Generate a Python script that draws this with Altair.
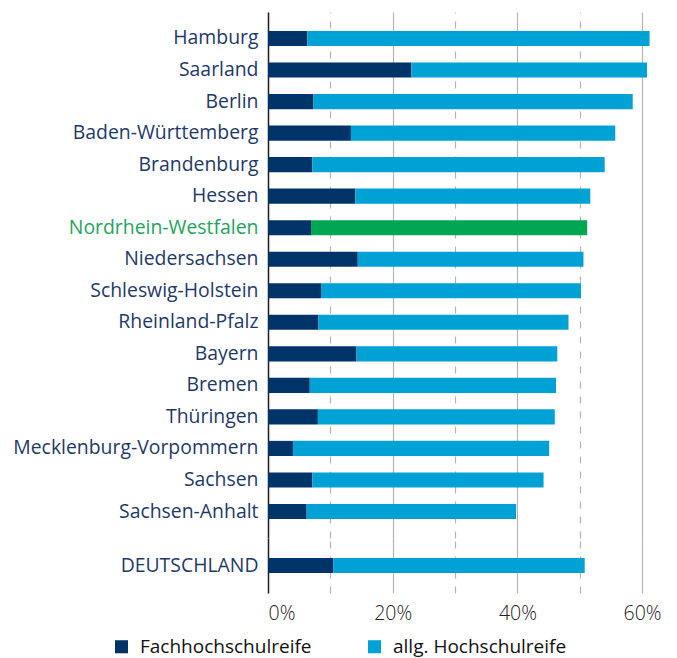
import altair as alt
import pandas as pd

# ---- data (percent of school leavers) ----
states = ["Hamburg", "Saarland", "Berlin", "Baden-Württemberg", "Brandenburg", "Hessen",
          "Nordrhein-Westfalen", "Niedersachsen", "Schleswig-Holstein", "Rheinland-Pfalz",
          "Bayern", "Bremen", "Thüringen", "Mecklenburg-Vorpommern", "Sachsen", "Sachsen-Anhalt"]
fach = [6.3, 23.0, 7.3, 13.3, 7.1, 14.0, 6.9, 14.4, 8.5, 8.1, 14.2, 6.7, 8.0, 4.0, 7.1, 6.2]
allg = [54.9, 37.8, 51.2, 42.4, 46.9, 37.7, 44.3, 36.2, 41.7, 40.1, 32.2, 39.5, 38.0, 41.1, 37.1, 33.6]
total_label = "DEUTSCHLAND"
total_fach = 10.5
total_allg = 40.3

cat_fach = "Fachhochschulreife"
cat_allg = "allg. Hochschulreife"
cat_nrw = "NRW"
highlight = "Nordrhein-Westfalen"

FONT = "Open Sans"
NAVY = "#003468"
BLUE = "#00a1d4"
GREEN = "#00a652"
LABEL_NAVY = "#1f3a68"
LABEL_GREEN = "#1fa55c"


def rows(names, f_vals, a_vals):
    out = []
    for n, f, a in zip(names, f_vals, a_vals):
        out.append({"Land": n, "Art": cat_fach, "Wert": f, "o": 0})
        out.append({"Land": n, "Art": cat_nrw if n == highlight else cat_allg, "Wert": a, "o": 1})
    return pd.DataFrame(out)


df_top = rows(states, fach, allg)
df_bot = rows([total_label], [total_fach], [total_allg])

color = alt.Color(
    "Art:N",
    scale=alt.Scale(domain=[cat_fach, cat_allg, cat_nrw], range=[NAVY, BLUE, GREEN]),
    legend=alt.Legend(
        values=[cat_fach, cat_allg], title=None, orient="none", direction="horizontal",
        legendX=-156, legendY=625, symbolType="square", symbolSize=170, symbolStrokeWidth=0,
        labelFont=FONT, labelFontSize=19, labelColor="#111111", labelLimit=400,
        columnPadding=53, labelOffset=9,
    ),
)

grid_dash = {"condition": {"test": "datum.value % 20 !== 0", "value": [7, 8]}, "value": []}

x_scale = alt.Scale(domain=[0, 64], nice=False)


def y_axis():
    return alt.Axis(
        title=None, ticks=False, labelPadding=10, labelFont=FONT, labelFontSize=19.4,
        labelLimit=400,
        labelColor={"condition": {"test": f"datum.value === '{highlight}'", "value": LABEL_GREEN},
                    "value": LABEL_NAVY},
        domainColor="#222222", domainWidth=1.5, minExtent=260, maxExtent=260,
    )


top = alt.Chart(df_top).mark_bar().encode(
    y=alt.Y("Land:N", sort=states, scale=alt.Scale(paddingInner=0.52, paddingOuter=0.6), axis=y_axis()),
    x=alt.X("Wert:Q", stack="zero", scale=x_scale,
            axis=alt.Axis(title=None, labels=False, ticks=False, domain=False, values=[0, 10, 20, 30, 40, 50, 60],
                          gridColor="#b4b4b4", gridWidth=1.2, gridDash=grid_dash, minExtent=0, maxExtent=0)),
    color=color,
    order=alt.Order("o:Q"),
).properties(width=399, height=526)

bottom = alt.Chart(df_bot).mark_bar().encode(
    y=alt.Y("Land:N", scale=alt.Scale(paddingInner=0.52, paddingOuter=0.64), axis=y_axis()),
    x=alt.X("Wert:Q", stack="zero", scale=x_scale,
            axis=alt.Axis(title=None, ticks=False, domain=False, values=[0, 10, 20, 30, 40, 50, 60],
                          labelExpr="datum.value % 20 === 0 ? datum.value + '%' : ''",
                          labelFont=FONT, labelFontSize=19.5, labelFontWeight=300, labelColor="#222222",
                          labelPadding=11,
                          gridColor="#b4b4b4", gridWidth=1.2, gridDash=grid_dash)),
    color=color,
    order=alt.Order("o:Q"),
).properties(width=399, height=55)

chart = alt.vconcat(top, bottom, spacing=0).resolve_scale(y="independent").properties(
    padding={"left": 0, "top": 4, "right": 0, "bottom": 0}
).configure_view(stroke=None)

chart.save("out.html", embed_options={"renderer": "svg", "actions": False})
